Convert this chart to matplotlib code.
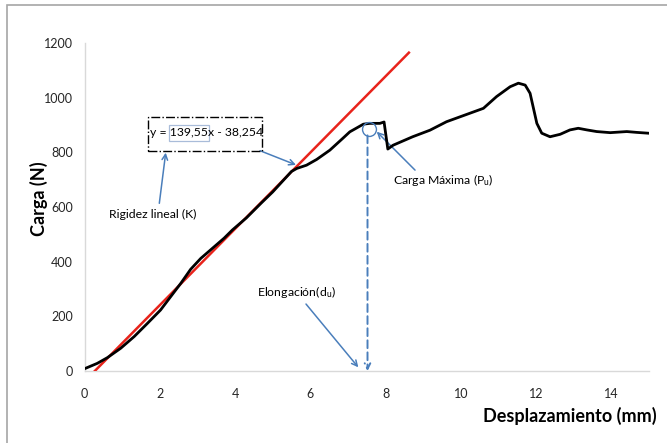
import matplotlib
matplotlib.use("Agg")
import matplotlib.pyplot as plt
from matplotlib.patches import Rectangle
import numpy as np

plt.rcParams['font.family'] = ['Lato', 'DejaVu Sans']
plt.rcParams['mathtext.fontset'] = 'custom'
plt.rcParams['mathtext.rm'] = 'Lato'
plt.rcParams['mathtext.it'] = 'Lato:italic'
plt.rcParams['mathtext.default'] = 'regular'

# Data
disp = [0.03, 0.34, 0.61, 0.96, 1.32, 1.67, 2.02, 2.29, 2.56, 2.82, 3.09, 3.35, 3.71, 3.93,
        4.3, 4.7, 5.0, 5.3, 5.5, 5.64, 5.9,
        6.17, 6.52, 6.87, 7.05, 7.41, 7.58, 7.85, 7.96, 8.06, 8.2, 8.72, 9.18, 9.62,
        10.24, 10.6, 10.95, 11.31, 11.53, 11.71, 11.84, 11.93, 12.02, 12.15, 12.37,
        12.64, 12.9, 13.12, 13.35, 13.61, 13.97, 14.41, 14.67, 14.98]
load = [10, 28, 49, 83, 126, 174, 223, 272, 321, 372, 412, 443, 486, 516,
        560, 615, 655, 700, 730, 741, 753,
        774, 808, 852, 875, 903, 906, 906, 911, 812, 826, 857, 881, 912,
        943, 961, 1004, 1040, 1053, 1046, 1016, 961, 906, 870, 857,
        866, 882, 888, 882, 876, 872, 876, 873, 870]
slope = 139.55
intercept = -38.254
fit_x = [-intercept / slope, 8.62]
xticks = [0, 2, 4, 6, 8, 10, 12, 14]
yticks = [0, 200, 400, 600, 800, 1000, 1200]
peak_x = 7.56
peak_y = 887
du_x = 7.52

W, H = 667, 443
fig = plt.figure(figsize=(W / 100, H / 100), dpi=100)
ax = fig.add_axes([84.5 / W, 1 - 371 / H, (649 - 84.5) / W, (371 - 43) / H])

# outer frame
fig.patches.append(Rectangle((7 / W, -0.05), 1.1, 1 - 5 / H + 0.05, transform=fig.transFigure,
                             fill=False, edgecolor='#a6a6a6', lw=1.2))

fx = np.array(fit_x)
ax.plot(fx, slope * fx + intercept, color='#e8231b', lw=1.8, zorder=3)
ax.plot(disp, load, color='black', lw=2.0, zorder=4, solid_joinstyle='round')

ax.set_xlim(0, 15)
ax.set_ylim(0, 1200)
ax.set_xticks(xticks)
ax.set_yticks(yticks)
ax.tick_params(length=0, labelsize=9, colors='#262626', pad=12)
ax.tick_params(axis='y', pad=8.5)
for s in ['top', 'right']:
    ax.spines[s].set_visible(False)
for s in ['left', 'bottom']:
    ax.spines[s].set_color('#d9d9d9')
    ax.spines[s].set_linewidth(1.0)

fig.text(39 / W, 1 - 199 / H, 'Carga (N)', rotation=90, ha='center', va='center',
         fontsize=13, fontweight='bold')
fig.text(657 / W, 1 - 416 / H, 'Desplazamiento (mm)', ha='right', va='center',
         fontsize=13, fontweight='bold')

blue = '#4a7ebb'
arrow = dict(arrowstyle='->', color=blue, lw=1.1, shrinkA=0, shrinkB=0)
fs = 8.8

# equation box
ax.add_patch(Rectangle((1.678, 806), 4.707 - 1.678, 931 - 806, fill=False,
                       edgecolor='black', linestyle='-.', lw=1.0, zorder=5))
eq_x, eq_y = 1.745, 871
t_full = ax.text(eq_x, eq_y, 'y = 139,55x - 38,254', ha='left', va='center', fontsize=fs, zorder=6)
fig.canvas.draw()
r = fig.canvas.get_renderer()
probe1 = ax.text(eq_x, eq_y, 'y = ', ha='left', va='center', fontsize=fs)
probe2 = ax.text(eq_x, eq_y, 'y = 139,55', ha='left', va='center', fontsize=fs)
b1 = probe1.get_window_extent(r)
b2 = probe2.get_window_extent(r)
probe1.remove()
probe2.remove()
inv = ax.transData.inverted()
xa = inv.transform((b1.x1 - 1, 0))[0]
xb = inv.transform((b2.x1 + 1, 0))[0]
ax.add_patch(Rectangle((xa, 842.6), xb - xa, 900 - 842.6, fill=False,
                       edgecolor='#a9bcd9', lw=0.9, zorder=5))

ax.annotate('', xy=(5.62, 754), xytext=(4.664, 806), arrowprops=arrow)
ax.annotate('', xy=(2.158, 798.7), xytext=(1.988, 613.5), arrowprops=arrow)
ax.text(1.82, 571, 'Rigidez lineal (K)', ha='center', va='center', fontsize=fs)

ax.plot([peak_x], [peak_y], marker='o', ms=10, mfc='none', mec=blue, mew=1.0, zorder=6)
ax.annotate('', xy=(7.765, 875.5), xytext=(8.783, 735), arrowprops=arrow)
ax.text(8.198, 699, 'Carga Máxima (P$_u$)', ha='left', va='center', fontsize=fs)

ax.annotate('', xy=(du_x, 0), xytext=(du_x, 862),
            arrowprops=dict(arrowstyle='->', color=blue, lw=1.4, ls=(0, (4, 2.2)),
                            shrinkA=0, shrinkB=0))
ax.annotate('', xy=(7.276, 13.5), xytext=(5.886, 245), arrowprops=arrow)
ax.text(4.576, 288, 'Elongación(d$_u$)', ha='left', va='center', fontsize=fs)

fig.savefig('out.png', dpi=100)
